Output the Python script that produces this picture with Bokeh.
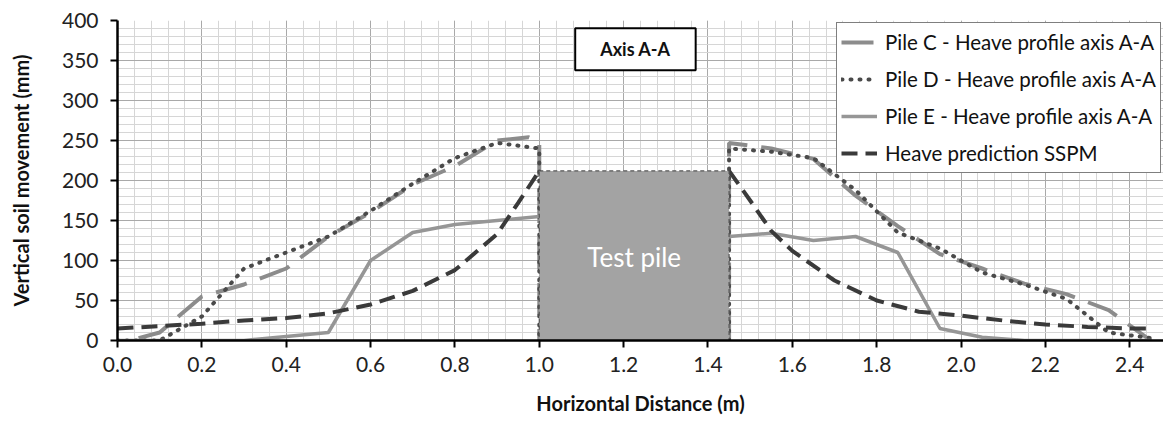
import numpy as np
from bokeh.plotting import figure
from bokeh.models import Range1d, Legend, LegendItem, Label, SingleIntervalTicker, NumeralTickFormatter
from bokeh.embed import file_html
from bokeh.resources import INLINE

nan = float("nan")

# ---- data ----
pile_c_x = [0.05, 0.1, 0.2, 0.3, 0.4, 0.5, 0.6, 0.7, 0.8, 0.9, 0.975, 1.0, 1.0,
            nan, 1.45, 1.45, 1.55, 1.65, 1.75, 1.85, 1.95, 2.05, 2.15, 2.25, 2.35, 2.45]
pile_c_y = [3, 10, 55, 70, 90, 130, 160, 195, 218, 250, 254, 248, 0,
            nan, 0, 247, 240, 227, 181, 143, 108, 90, 71, 58, 38, 0]

pile_d_x = [0.0, 0.1, 0.2, 0.3, 0.4, 0.5, 0.6, 0.7, 0.8, 0.9, 1.0, 1.0,
            nan, 1.45, 1.45, 1.55, 1.65, 1.75, 1.85, 1.95, 2.05, 2.15, 2.25, 2.35, 2.45]
pile_d_y = [0, 0, 30, 90, 110, 130, 162, 196, 228, 247, 240, 0,
            nan, 0, 240, 236, 228, 188, 135, 115, 85, 70, 52, 10, 3]

pile_e_x = [0.0, 0.1, 0.2, 0.3, 0.4, 0.5, 0.6, 0.7, 0.8, 0.9, 1.0,
            nan, 1.45, 1.55, 1.65, 1.75, 1.85, 1.95, 2.05, 2.15, 2.25, 2.35, 2.45]
pile_e_y = [0, 0, 0, 0, 5, 10, 100, 135, 145, 150, 155,
            nan, 130, 134, 125, 130, 110, 15, 4, 0, 0, 0, 0]

sspm_x = [0.0, 0.1, 0.2, 0.3, 0.4, 0.5, 0.6, 0.7, 0.8, 0.9, 0.95, 1.0,
          nan, 1.45, 1.5, 1.55, 1.6, 1.7, 1.8, 1.9, 2.0, 2.1, 2.2, 2.3, 2.4, 2.45]
sspm_y = [15, 18, 21, 25, 28, 34, 45, 62, 88, 133, 172, 212,
          nan, 212, 175, 137, 112, 75, 50, 36, 31, 25, 20, 17, 15, 15]

test_pile_x = [1.0, 1.45]      # left / right edge (m)
test_pile_top = 212            # mm

series_labels = ["Pile C - Heave profile axis A-A",
                 "Pile D - Heave profile axis A-A",
                 "Pile E - Heave profile axis A-A",
                 "Heave prediction SSPM"]

FONT = "Lato"

p = figure(width=1163, height=418, output_backend="svg", toolbar_location=None,
           x_range=Range1d(0, 2.48), y_range=Range1d(0, 400),
           min_border_left=117, min_border_top=20, min_border_right=0, min_border_bottom=78)
p.outline_line_color = None
p.background_fill_color = "white"

# axes
p.xaxis.ticker = SingleIntervalTicker(interval=0.2, num_minor_ticks=5)
p.yaxis.ticker = SingleIntervalTicker(interval=50, num_minor_ticks=5)
p.xaxis.formatter = NumeralTickFormatter(format="0.0")
for ax in (p.xaxis, p.yaxis):
    ax.axis_line_color = "black"
    ax.axis_line_width = 2.5
    ax.major_tick_line_color = "black"
    ax.major_tick_line_width = 2
    ax.major_tick_in = 0
    ax.major_tick_out = 7
    ax.minor_tick_line_color = None
    ax.major_label_text_font = FONT
    ax.major_label_text_font_size = "21px"
    ax.major_label_text_color = "#222222"
    ax.axis_label_text_font = FONT
    ax.axis_label_text_font_style = "bold"
    ax.axis_label_text_font_size = "20px"
    ax.axis_label_text_color = "#111111"
p.xaxis.axis_label = "Horizontal Distance (m)"
p.yaxis.axis_label = "Vertical soil movement (mm)"
p.xaxis.major_label_standoff = 9
p.yaxis.major_label_standoff = 12
p.xaxis.axis_label_standoff = 16
p.yaxis.axis_label_standoff = 26

# grid
for g in (p.xgrid, p.ygrid):
    g.grid_line_color = "#a9a9a9"
    g.grid_line_width = 1
    g.minor_grid_line_color = "#d6d6d6"
    g.minor_grid_line_width = 1

# series
rc = p.line(pile_c_x, pile_c_y, line_color="#8c8c8c", line_width=4, line_dash="32 14")
rd = p.line(pile_d_x, pile_d_y, line_color="#4a4a4a", line_width=4, line_dash="1 8", line_cap="round")
re = p.line(pile_e_x, pile_e_y, line_color="#969696", line_width=3.5)
rs = p.line(sspm_x, sspm_y, line_color="#3a3a3a", line_width=4, line_dash="16 8")

# test pile block
p.quad(left=[test_pile_x[0]], right=[test_pile_x[1]], bottom=[0], top=[test_pile_top],
       fill_color="#a3a3a3", line_color="#555555", line_width=1.2, line_dash="4 3")
p.add_layout(Label(x=(test_pile_x[0] + test_pile_x[1]) / 2, y=test_pile_top * 0.49, text="Test pile",
                   text_font=FONT, text_font_size="26px", text_color="white",
                   text_align="center", text_baseline="middle"))

# title box
p.add_layout(Label(x=1.228, y=364, text="Axis A-A", text_font=FONT, text_font_style="bold",
                   text_font_size="18px", text_color="#111111", text_align="center",
                   text_baseline="middle", background_fill_color="white",
                   border_line_color="black", border_line_width=2, padding=(25, 10)))

legend = Legend(items=[LegendItem(label=series_labels[0], renderers=[rc]),
                       LegendItem(label=series_labels[1], renderers=[rd]),
                       LegendItem(label=series_labels[2], renderers=[re]),
                       LegendItem(label=series_labels[3], renderers=[rs])],
                location=(719, 167), orientation="vertical",
                label_text_font=FONT, label_text_font_size="20.5px", label_text_color="#111111",
                glyph_width=36, glyph_height=30, label_height=30, spacing=7, padding=4,
                label_standoff=8, margin=0,
                border_line_color="black", border_line_width=1.5,
                background_fill_color="white", background_fill_alpha=1.0)
p.add_layout(legend)

open("out.html", "w").write(file_html(p, INLINE))
